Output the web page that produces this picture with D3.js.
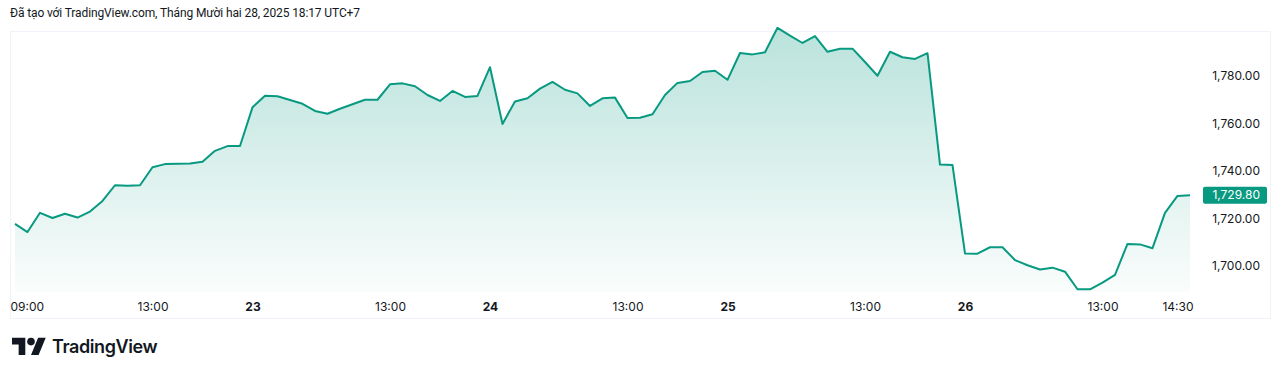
<!DOCTYPE html>
<html>
<head>
<meta charset="utf-8">
<script src="https://cdn.jsdelivr.net/npm/d3@7"></script>
<style>
  body { margin: 0; background: #fff; }
  svg text { font-family: Inter, "Noto Sans", sans-serif; }
</style>
</head>
<body>
<svg id="main_canvas" width="1280" height="374"></svg>
<script>
    // 15-minute bars, 22-26 Dec 2025
    const days = ["22", "23", "24", "25", "26"];
    const sessionTimes = ["09:00", "09:15", "09:30", "09:45", "10:00", "10:15", "10:30", "10:45",
        "11:00", "11:15", "11:30", "13:00", "13:15", "13:30", "13:45", "14:00", "14:15", "14:30", "14:45"];

    const closes = [
        1717.7, 1714.3, 1722.4, 1720.2, 1722.0, 1720.4, 1722.9, 1727.4, 1734.0, 1733.8,
        1734.0, 1741.6, 1742.9, 1743.1, 1743.2, 1743.9, 1748.5, 1750.5, 1750.5,
        1766.8, 1771.7, 1771.5, 1769.9, 1768.3, 1765.3, 1764.1, 1766.2, 1768.1, 1770.0,
        1770.0, 1776.5, 1776.9, 1775.7, 1772.0, 1769.5, 1773.7, 1771.2, 1771.6,
        1783.7, 1759.8, 1769.3, 1770.6, 1774.7, 1777.5, 1774.2, 1772.7, 1767.4, 1770.6,
        1770.9, 1762.3, 1762.4, 1763.9, 1772.0, 1777.1, 1777.9, 1781.7, 1782.2,
        1778.4, 1789.7, 1789.1, 1790.0, 1800.3, 1797.0, 1793.9, 1796.8, 1790.2, 1791.5,
        1791.5, 1785.9, 1780.1, 1790.2, 1787.9, 1787.2, 1789.6, 1742.7, 1742.5,
        1705.3, 1705.2, 1707.9, 1707.9, 1702.5, 1700.3, 1698.5, 1699.3, 1697.6, 1690.2,
        1690.2, 1693.0, 1696.3, 1709.3, 1709.1, 1707.5, 1722.4, 1729.5, 1729.8
    ];

    const xTickBars = ["22 09:00", "22 13:00", "23 09:00", "23 13:00", "24 09:00", "24 13:00",
        "25 09:00", "25 13:00", "26 09:00", "26 13:00", "26 14:30"];
    const xTickLabels = ["09:00", "13:00", "23", "13:00", "24", "13:00", "25", "13:00", "26", "13:00", "14:30"];
    const yTicks = [1700, 1720, 1740, 1760, 1780];
    const lastPrice = 1729.80;
    const headerText = "Đã tạo với TradingView.com, Tháng Mười hai 28, 2025 18:17 UTC+7";

    const bars = days.flatMap(d => sessionTimes.map(t => d + " " + t));
    const data = bars.map((b, i) => ({ bar: b, value: closes[i] }));

    const GREEN = "#089981";
    const pane = { left: 10, right: 1270, top: 31, bottom: 292, axisBottom: 318 };

    const svg = d3.select("#main_canvas");

    const x = d3.scalePoint()
        .domain(bars)
        .range([15, 1190]);

    const y = d3.scaleLinear()
        .domain([1700, 1780])
        .range([266, 76]);

    // header
    svg.append("text")
        .attr("x", 10)
        .attr("y", 17)
        .attr("font-size", 12)
        .attr("letter-spacing", -0.12)
        .style("font-family", "Roboto, sans-serif")
        .attr("fill", "#131722")
        .text(headerText);

    // frame
    svg.append("rect")
        .attr("x", pane.left + 0.5)
        .attr("y", pane.top + 0.5)
        .attr("width", pane.right - pane.left)
        .attr("height", pane.axisBottom - pane.top)
        .attr("fill", "none")
        .attr("stroke", "#f0f3fa");

    const grad = svg.append("defs").append("linearGradient")
        .attr("id", "areaFill")
        .attr("gradientUnits", "userSpaceOnUse")
        .attr("x1", 0).attr("x2", 0)
        .attr("y1", y(1800)).attr("y2", pane.bottom);
    grad.append("stop").attr("offset", 0).attr("stop-color", GREEN).attr("stop-opacity", 0.28);
    grad.append("stop").attr("offset", 1).attr("stop-color", GREEN).attr("stop-opacity", 0.02);

    const area = d3.area()
        .x(d => x(d.bar))
        .y0(pane.bottom)
        .y1(d => y(d.value));

    const line = d3.line()
        .x(d => x(d.bar))
        .y(d => y(d.value));

    svg.append("path")
        .datum(data)
        .attr("d", area)
        .attr("fill", "url(#areaFill)");

    svg.append("path")
        .datum(data)
        .attr("d", line)
        .attr("fill", "none")
        .attr("stroke", GREEN)
        .attr("stroke-width", 2)
        .attr("stroke-linejoin", "round");

    // x axis
    const xAxis = svg.append("g")
        .attr("transform", `translate(0,${pane.bottom})`)
        .call(d3.axisBottom(x)
            .tickValues(xTickBars)
            .tickFormat((d, i) => xTickLabels[i])
            .tickSize(0)
            .tickPadding(10));
    xAxis.select(".domain").remove();
    xAxis.selectAll("text")
        .attr("font-size", 12)
        .attr("fill", "#131722")
        .attr("font-weight", (d, i) => /^\d\d$/.test(xTickLabels[i]) ? 700 : 400);
    xAxis.select(".tick text").attr("text-anchor", "start").attr("x", -5);

    // y axis
    const yAxis = svg.append("g")
        .attr("transform", "translate(1260,0)")
        .call(d3.axisRight(y)
            .tickValues(yTicks)
            .tickFormat(d3.format(",.2f"))
            .tickSize(0)
            .tickPadding(0));
    yAxis.select(".domain").remove();
    yAxis.selectAll("text")
        .attr("text-anchor", "end")
        .attr("font-size", 12)
        .attr("fill", "#131722");

    // last price label
    const tag = svg.append("g").attr("transform", `translate(0,${y(lastPrice)})`);
    tag.append("rect")
        .attr("x", 1203)
        .attr("y", -8.5)
        .attr("width", 64)
        .attr("height", 17)
        .attr("rx", 2)
        .attr("fill", GREEN);
    tag.append("text")
        .attr("x", 1260)
        .attr("dy", "0.35em")
        .attr("text-anchor", "end")
        .attr("font-size", 12)
        .attr("fill", "#fff")
        .text(d3.format(",.2f")(lastPrice));

    // logo
    const logo = svg.append("g").attr("transform", "translate(12,334) scale(0.95)");
    logo.append("path")
        .attr("d", "M14 22H7V11H0V4h14v18zM28 22h-8l7.5-18h8L28 22z")
        .attr("fill", "#131722");
    logo.append("circle")
        .attr("cx", 20).attr("cy", 8).attr("r", 4)
        .attr("fill", "#131722");
    svg.append("text")
        .attr("x", 52)
        .attr("y", 353)
        .attr("font-size", 18)
        .attr("font-weight", 600)
        .attr("letter-spacing", -0.4)
        .attr("fill", "#131722")
        .text("TradingView");
</script>
</body>
</html>
